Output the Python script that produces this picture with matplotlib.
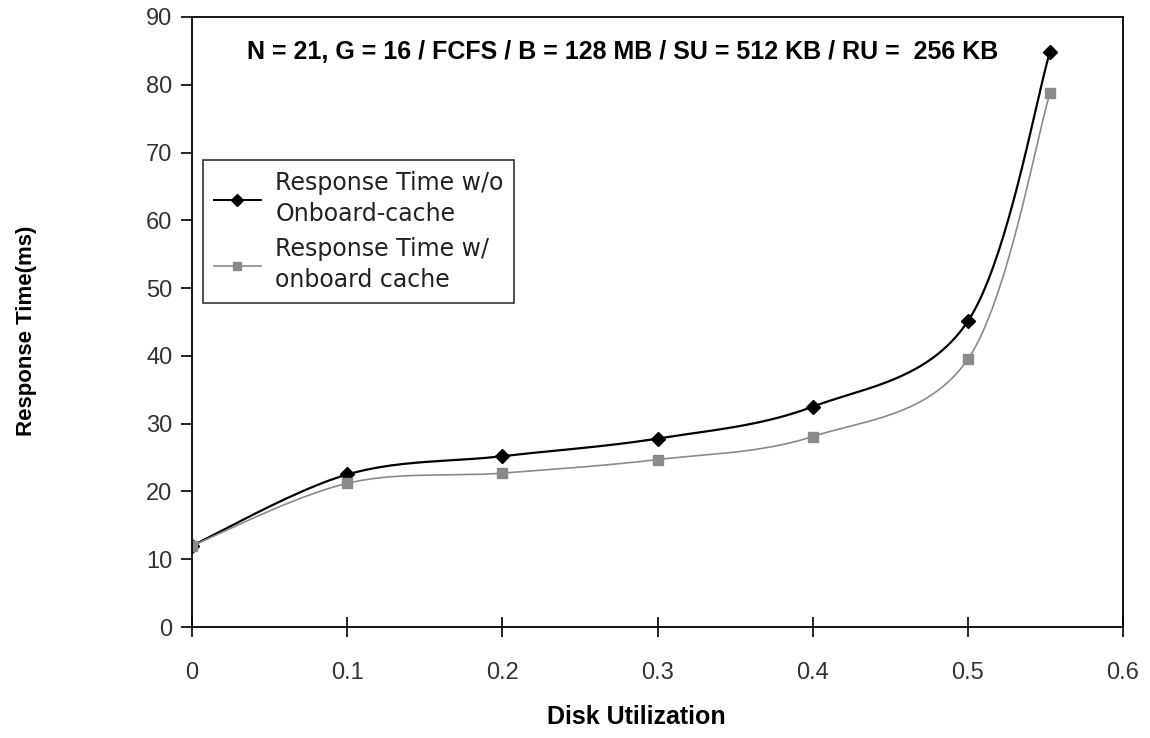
import numpy as np
import matplotlib
matplotlib.use("Agg")
import matplotlib.pyplot as plt

# data
util = [0.0, 0.1, 0.2, 0.3, 0.4, 0.5, 0.553]
rt_no_cache = [12.0, 22.5, 25.2, 27.8, 32.5, 45.1, 84.9]
rt_cache = [12.0, 21.2, 22.7, 24.7, 28.1, 39.5, 78.8]
labels = ["Response Time w/o\nOnboard-cache", "Response Time w/\nonboard cache"]
title = "N = 21, G = 16 / FCFS / B = 128 MB / SU = 512 KB / RU =  256 KB"
xticks = [0, 0.1, 0.2, 0.3, 0.4, 0.5, 0.6]
yticks = [0, 10, 20, 30, 40, 50, 60, 70, 80, 90]

plt.rcParams["font.family"] = ["Liberation Sans", "DejaVu Sans"]


def smooth(x, y, sx=0.6, sy=90.0, n=40):
    # excel-style smoothed line (cubic bezier, catmull-rom handles)
    p = np.column_stack([np.asarray(x) / sx, np.asarray(y) / sy])
    pts = np.vstack([p[0], p, p[-1]])
    out = []
    t = np.linspace(0, 1, n)[:, None]
    for i in range(1, len(pts) - 2):
        p0, p1, p2, p3 = pts[i - 1], pts[i], pts[i + 1], pts[i + 2]
        c1 = p1 + (p2 - p0) / 6
        c2 = p2 - (p3 - p1) / 6
        seg = ((1 - t) ** 3) * p1 + 3 * ((1 - t) ** 2) * t * c1 + 3 * (1 - t) * t ** 2 * c2 + t ** 3 * p2
        out.append(seg)
    out = np.vstack(out)
    return out[:, 0] * sx, out[:, 1] * sy


fig = plt.figure(figsize=(11.5, 7.38), dpi=100)
ax = fig.add_axes([0.167, 0.1504, 0.8095, 0.8266])

xs, ys = smooth(util, rt_no_cache)
ax.plot(xs, ys, color="black", lw=1.6)
ax.plot(util, rt_no_cache, ls="none", marker="D", ms=7, color="black")
l1, = ax.plot([], [], color="black", lw=1.4, marker="D", ms=6)

xs, ys = smooth(util, rt_cache)
ax.plot(xs, ys, color="#8a8a8a", lw=1.2)
ax.plot(util, rt_cache, ls="none", marker="s", ms=7, color="#8a8a8a")
l2, = ax.plot([], [], color="#8a8a8a", lw=1.2, marker="s", ms=6)

ax.set_xlim(0, 0.6)
ax.set_ylim(0, 90)
ax.set_xticks(xticks)
ax.set_xticklabels([f"{v:g}" for v in xticks])
ax.set_yticks(yticks)
for s in ax.spines.values():
    s.set_linewidth(1.3)
ax.tick_params(axis="x", direction="inout", length=14, width=1.2, pad=18)
ax.tick_params(axis="y", direction="out", length=8, width=1.2, pad=6)
for lab in ax.get_xticklabels() + ax.get_yticklabels():
    lab.set_fontsize(17)
    lab.set_color("#333333")

ax.set_xlabel("Disk Utilization", fontsize=18, fontweight="bold")
ax.xaxis.set_label_coords(0.477, -0.128)
ax.set_ylabel("Response Time(ms)", fontsize=16, fontweight="bold")
ax.yaxis.set_label_coords(-0.167, 0.485)

ax.text(0.463, 0.962, title, transform=ax.transAxes, ha="center", va="top",
        fontsize=18, fontweight="bold")

leg = ax.legend([l1, l2], labels, loc="upper left", bbox_to_anchor=(0.012, 0.765),
                prop={"family": "DejaVu Sans", "size": 17}, frameon=True,
                fancybox=False, edgecolor="black", handlelength=2.0,
                labelspacing=0.5, borderpad=0.45, handletextpad=0.6, borderaxespad=0)
leg.get_frame().set_linewidth(1.2)
for t in leg.get_texts():
    t.set_linespacing(1.35)
    t.set_color("#222222")

fig.savefig("out.png", dpi=100)
